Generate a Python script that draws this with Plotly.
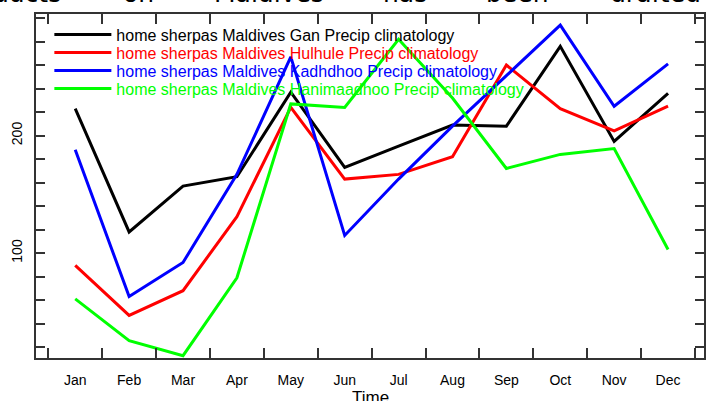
import plotly.graph_objects as go

months = ["Jan", "Feb", "Mar", "Apr", "May", "Jun", "Jul", "Aug", "Sep", "Oct", "Nov", "Dec"]

gan = [223, 118, 157, 165, 237, 173, 191, 209, 208, 276, 195, 236]
hulhule = [89.5, 47, 68, 131, 224, 163, 167, 182, 260, 223, 204, 225]
kadhdhoo = [188, 63, 92, 167, 267, 115, 163, 208, 251, 294, 225, 261]
hanimaadhoo = [61, 25.5, 12.7, 79, 227, 224, 282, 232, 172, 184, 189, 103]

series_names = [
    "home sherpas Maldives Gan Precip climatology",
    "home sherpas Maldives Hulhule Precip climatology",
    "home sherpas Maldives Kadhdhoo Precip climatology",
    "home sherpas Maldives Hanimaadhoo Precip climatology",
]
series_values = [gan, hulhule, kadhdhoo, hanimaadhoo]
series_colors = ["#000000", "#ff0000", "#0000ff", "#00ff00"]
legend_ids = ["legend", "legend2", "legend3", "legend4"]
legend_row_px = [34.5, 52.5, 70.5, 88.5]

x_title = "Time"

y_tick_vals = list(range(20, 301, 20))
y_tick_text = [str(v) if v in (100, 200) else "" for v in y_tick_vals]

top_words = ["products", "on", "Maldives", "has", "been", "drafted"]
top_word_px = [63, 138.5, 269, 404.5, 517, 608]
top_word_anchor = ["right", "center", "center", "center", "center", "left"]

W, H = 707, 401
ML, MR, MT, MB = 36, 3, 14, 43
PW = W - ML - MR
PH = H - MT - MB

fig = go.Figure()
for name, vals, col, lid in zip(series_names, series_values, series_colors, legend_ids):
    fig.add_trace(go.Scatter(
        x=months, y=vals, mode="lines", name=name, legend=lid,
        line=dict(color=col, width=3),
    ))

legends = {}
for lid, col, ypx in zip(legend_ids, series_colors, legend_row_px):
    legends[lid] = dict(
        x=0.02, y=1 - (ypx - MT) / PH, xanchor="left", yanchor="middle",
        bgcolor="rgba(0,0,0,0)", borderwidth=0, itemwidth=57,
        font=dict(family="Liberation Sans", size=16, color=col),
    )

for word, px, anc in zip(top_words, top_word_px, top_word_anchor):
    fig.add_annotation(
        text=word, xref="paper", yref="paper",
        x=(px - ML) / PW, y=1 + (MT + 6) / PH,
        xanchor=anc, yanchor="middle", showarrow=False,
        font=dict(family="DejaVu Sans", size=25, color="#000000"),
    )

# x-axis title, sitting partly below the bottom edge as in the reference
fig.add_annotation(
    text=x_title, xref="paper", yref="paper",
    x=0.5, y=-(397 - MT - PH) / PH,
    xanchor="center", yanchor="middle", showarrow=False,
    font=dict(family="Liberation Sans", size=17, color="#000000"),
)

axis_common = dict(
    showline=True, linecolor="#333333", linewidth=2, mirror="ticks",
    ticks="inside", tickcolor="#333333", tickwidth=1.5,
    showgrid=False, zeroline=False, automargin=False,
    tickfont=dict(family="Liberation Sans", size=14, color="#000000"),
)

fig.update_layout(
    template="none",
    width=W, height=H,
    margin=dict(l=ML, r=MR, t=MT, b=MB, pad=0),
    paper_bgcolor="white", plot_bgcolor="white",
    font=dict(family="Liberation Sans", color="#000000"),
    showlegend=True,
    xaxis=dict(
        type="category", tickson="boundaries", ticklen=10,
        range=[-0.728, 11.667], ticklabelstandoff=8,
        **axis_common,
    ),
    yaxis=dict(
        range=[10.7, 303.5], tickmode="array",
        tickvals=y_tick_vals, ticktext=y_tick_text, ticklen=9,
        tickangle=-90, ticklabelstandoff=6,
        **axis_common,
    ),
    **legends,
)

fig.write_html(
    "out.html",
    config={"displayModeBar": False},
    post_script="document.body.style.margin='0';document.body.style.overflow='hidden';",
)
